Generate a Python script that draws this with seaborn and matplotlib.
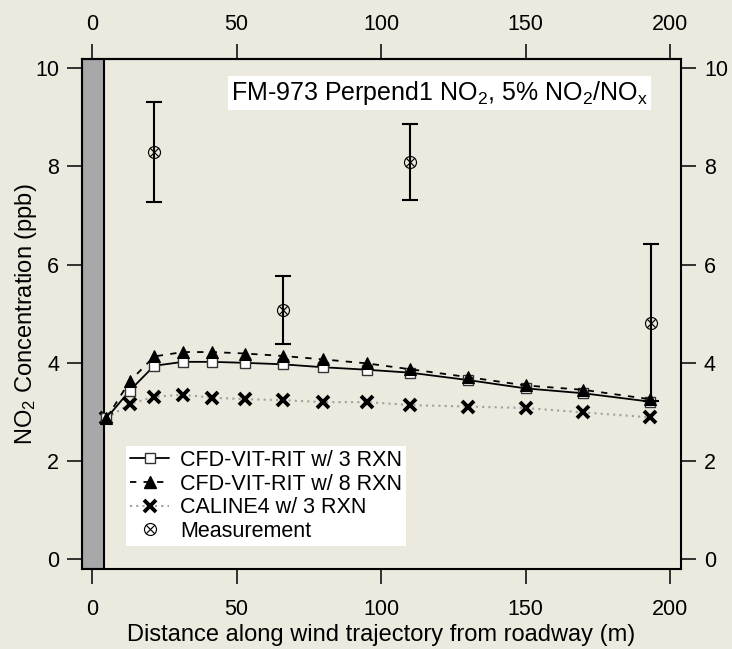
import matplotlib
matplotlib.use("Agg")
import matplotlib.pyplot as plt
from matplotlib.lines import Line2D
import seaborn as sns
import numpy as np

# ---- data ----
dist = [5, 13, 21.5, 31.5, 41.5, 53, 66, 80, 95, 110, 130, 150, 170, 193]
cfd_3rxn = [2.87, 3.43, 3.94, 4.02, 4.02, 4.00, 3.97, 3.91, 3.86, 3.80, 3.65, 3.48, 3.38, 3.21]
cfd_8rxn = [2.87, 3.62, 4.13, 4.22, 4.22, 4.19, 4.14, 4.07, 3.99, 3.87, 3.71, 3.54, 3.45, 3.26]
caline4 = [2.87, 3.16, 3.31, 3.35, 3.29, 3.26, 3.24, 3.20, 3.20, 3.14, 3.11, 3.08, 2.99, 2.89]

meas_x = [21.5, 66, 110, 193.5]
meas_y = [8.29, 5.08, 8.09, 4.82]
meas_hi = [9.31, 5.76, 8.86, 6.42]
meas_lo = [7.28, 4.38, 7.32, 3.22]

labels = ["CFD-VIT-RIT w/ 3 RXN", "CFD-VIT-RIT w/ 8 RXN", "CALINE4 w/ 3 RXN", "Measurement"]
xticks = [0, 50, 100, 150, 200]
yticks = [0, 2, 4, 6, 8, 10]
title = "FM-973 Perpend1 NO$_2$, 5% NO$_2$/NO$_x$"
xlabel = "Distance along wind trajectory from roadway (m)"
ylabel = "NO$_2$ Concentration (ppb)"
road_edge = 4.3

# ---- style ----
sns.set_style("ticks")
bg = "#ECEADF"
plt.rcParams["font.family"] = ["Liberation Sans", "DejaVu Sans"]
plt.rcParams["mathtext.fontset"] = "custom"
plt.rcParams["mathtext.rm"] = "Liberation Sans"
plt.rcParams["mathtext.default"] = "regular"
plt.rcParams["text.color"] = "black"
plt.rcParams["axes.labelcolor"] = "black"
plt.rcParams["xtick.color"] = "black"
plt.rcParams["ytick.color"] = "black"

fig = plt.figure(figsize=(7.32, 6.49), dpi=100, facecolor=bg)
ax = fig.add_axes([82 / 732, 1 - 569 / 649, (681 - 82) / 732, (569 - 59) / 649])
ax.set_facecolor(bg)

xmin, xmax = -3.46, 203.8
ax.set_xlim(xmin, xmax)
ax.set_ylim(-0.2, 10.19)

ax.axvspan(xmin, road_edge, facecolor="#A8A8A8", edgecolor="black", lw=1.5, zorder=1)

sns.lineplot(x=dist, y=caline4, ax=ax, color="#A0A0A0", linestyle=(0, (1, 2)), lw=1.5,
             zorder=2)
ax.plot(dist, caline4, linestyle="none", marker="x", markersize=8.5, mew=2.8, color="black", zorder=3)
sns.lineplot(x=dist, y=cfd_3rxn, ax=ax, color="black", linestyle="-", lw=1.3,
             marker="s", markersize=7.5, markerfacecolor="white", markeredgecolor="#333333",
             markeredgewidth=1.0, zorder=4)
sns.lineplot(x=dist, y=cfd_8rxn, ax=ax, color="black", linestyle=(0, (3.5, 4)), lw=1.3,
             marker="^", markersize=9, markerfacecolor="black", markeredgecolor="black", zorder=5)

yerr = [np.array(meas_y) - np.array(meas_lo), np.array(meas_hi) - np.array(meas_y)]
ax.errorbar(meas_x, meas_y, yerr=yerr, fmt="none", ecolor="black", elinewidth=1.5,
            capsize=5.5, capthick=1.5, zorder=6)
ax.plot(meas_x, meas_y, linestyle="none", marker=r"$\otimes$", markersize=9.5,
        color="black", mew=0, zorder=7)

# ---- axes ----
tick_kw = dict(direction="out", length=10.5, width=1.1, colors="black", labelsize=15.5)
ax.set_xticks(xticks)
ax.set_yticks(yticks)
ax.tick_params(axis="both", which="both", top=False, right=True,
               labeltop=False, labelright=True, **tick_kw)
ax.tick_params(axis="x", pad=11)
ax.tick_params(axis="y", pad=6)

top = ax.secondary_xaxis("top")
top.set_xticks(xticks)
top.tick_params(axis="x", pad=6.5, **tick_kw)
top.spines["top"].set_linewidth(1.5)
top.spines["top"].set_color("black")

for s in ax.spines.values():
    s.set_visible(True)
    s.set_linewidth(1.5)
    s.set_color("black")
ax.set_xlabel(xlabel, fontsize=17, labelpad=3)
ax.set_ylabel(ylabel, fontsize=17, labelpad=-2.5)

ax.text(0.597, 0.934, title, transform=ax.transAxes, ha="center", va="center",
        fontsize=18, color="black",
        bbox=dict(boxstyle="square,pad=0.12", fc="white", ec="none"), zorder=8)

handles = [
    Line2D([], [], color="black", lw=1.3, marker="s", markersize=7.5,
           markerfacecolor="white", markeredgecolor="#333333"),
    Line2D([], [], color="black", lw=1.3, linestyle=(0, (3.5, 4)), marker="^",
           markersize=9, markerfacecolor="black"),
    Line2D([], [], color="#A0A0A0", lw=1.5, linestyle=(0, (1, 2)), marker="x",
           markersize=8.5, mew=2.8, markeredgecolor="black"),
    Line2D([], [], linestyle="none", marker=r"$\otimes$", markersize=9.5, color="black", mew=0),
]
leg = ax.legend(handles, labels, loc="lower left", bbox_to_anchor=(0.0735, 0.045),
                borderaxespad=0, frameon=True, fancybox=False, framealpha=1,
                facecolor="white", edgecolor="none", fontsize=15.5,
                handlelength=1.8, handletextpad=0.5, labelspacing=0.12, borderpad=0.2)
leg.set_zorder(9)

fig.savefig("out.png", dpi=100, facecolor=bg)
